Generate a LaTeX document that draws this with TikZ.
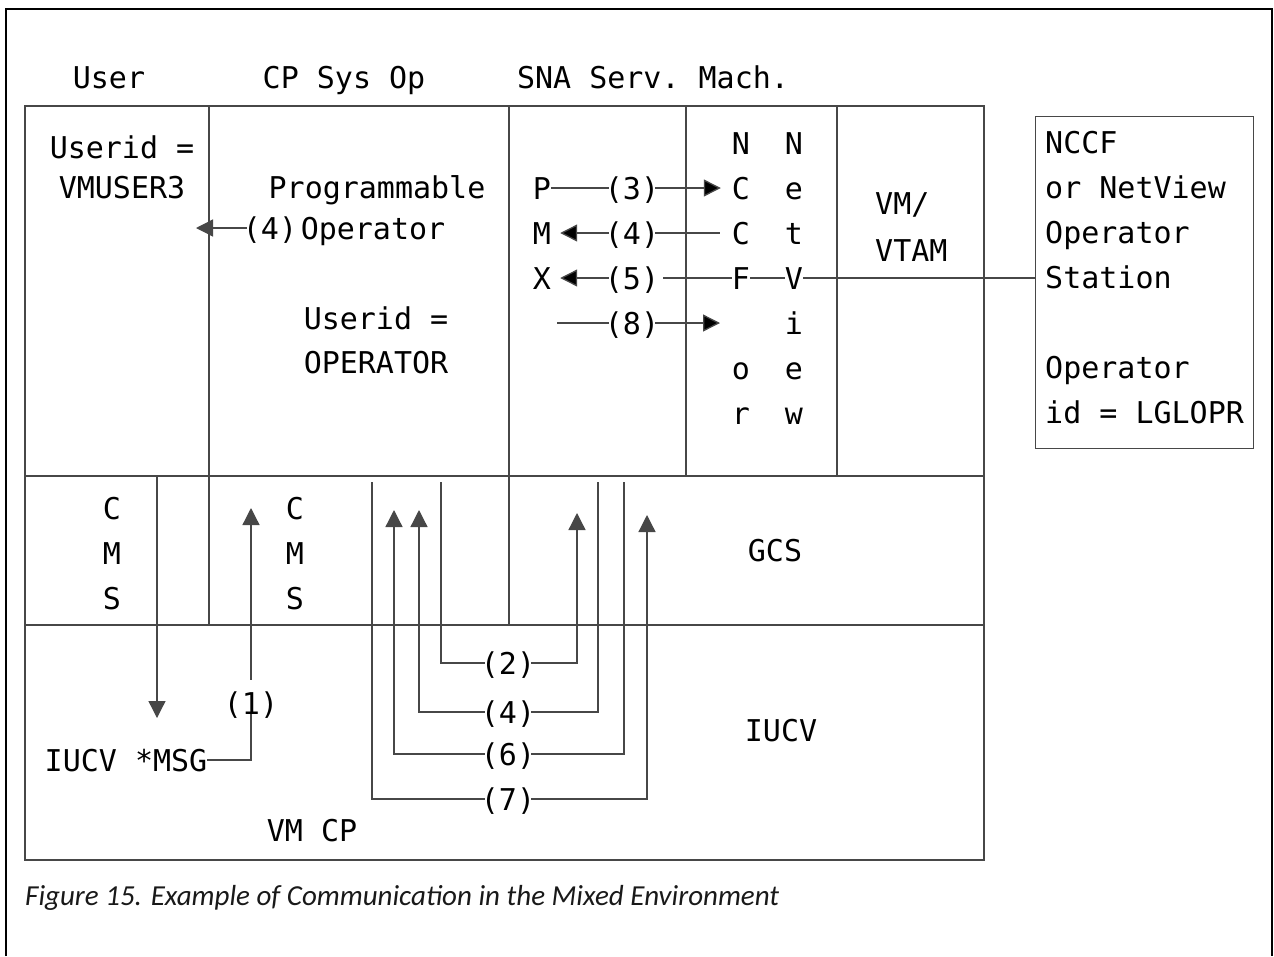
\documentclass[tikz,border=0pt]{standalone}
\usepackage{fontspec}
\newfontfamily\diafont{DejaVu Sans Mono}
\newfontfamily\capfont{Carlito}
\usetikzlibrary{arrows.meta}

\tikzset{
  ln/.style={draw=black!72, line width=1.3pt},
  tri/.style={-{Triangle[length=17pt,width=17pt]}},
  txt/.style={inner sep=0pt, text height=22pt, text depth=0pt,
    font=\diafont\fontsize{30}{45}\selectfont},
  lbl/.style={txt, inner xsep=-4pt},
  boxtxt/.style={inner sep=0pt, align=left,
    font=\diafont\fontsize{30}{45}\selectfont},
}

\begin{document}
\begin{tikzpicture}[x=1pt, y=-1pt, node distance=45pt]
	\useasboundingbox (0,0) rectangle (1274,956);
	\draw[line width=2.2pt] (6,956) -- (6,9) -- (1272,9) -- (1272,956);

	% headings
	\node (hu) [txt] at (109,77) {User};
	\node (hc) [txt] at (344,77) {CP Sys Op};
	\node (hs) [txt] at (653,77) {SNA Serv.\hspace{-5pt} Mach.};

	% frame of the machines
	\draw[ln] (25,106) rectangle (984,860);
	\draw[ln] (25,476) -- (984,476);
	\draw[ln] (25,625) -- (984,625);
	\draw[ln] (209,106) -- (209,625);
	\draw[ln] (509,106) -- (509,625);
	\draw[ln] (686,106) -- (686,476);
	\draw[ln] (837,106) -- (837,476);

	% user and operator
	\node (uid) [txt] at (122,147) {Userid =};
	\node (uname) [txt] at (122,187) {VMUSER3};
	\node (prog) [txt] at (377,187) {Programmable};
	\node (op4) [lbl] at (270,228) {(4)};
	\node (oper) [txt] at (373,228) {Operator};
	\node (oid) [txt] at (376,318) {Userid =};
	\node (oname) [txt] at (376,362) {OPERATOR};
	\coordinate (ua) at (196,228);
	\draw[ln,tri] (op4) -- (ua);

	% station box
	\node (stn) [ln, draw, anchor=north west, minimum width=218pt,
		minimum height=332pt, inner sep=0pt] at (1035,116) {};
	\node (stxt) [boxtxt, anchor=north west] at (1045,131)
		{NCCF\\or NetView\\Operator\\Station\\[45pt]Operator\\id = LGLOPR};

	% PMX
	\node (P) [txt] at (542,188) {P};
	\node (M) [txt] at (542,233) {M};
	\node (X) [txt] at (542,278) {X};
	\node (l3) [lbl] at (632,188) {(3)};
	\node (l4t) [lbl] at (632,233) {(4)};
	\node (l5) [lbl] at (632,278) {(5)};
	\node (l8) [lbl] at (632,323) {(8)};

	% NCCF or NetView
	\node (nc1) [txt] at (741,143) {N};
	\node (nc2) [txt, below of=nc1] {C};
	\node (nc3) [txt, below of=nc2] {C};
	\node (nc4) [txt, below of=nc3] {F};
	\node (nc5) [txt, below of=nc4, node distance=90pt] {o};
	\node (nc6) [txt, below of=nc5] {r};
	\node (nv1) [txt] at (794,143) {N};
	\node (nv2) [txt, below of=nv1] {e};
	\node (nv3) [txt, below of=nv2] {t};
	\node (nv4) [txt, below of=nv3] {V};
	\node (nv5) [txt, below of=nv4] {i};
	\node (nv6) [txt, below of=nv5] {e};
	\node (nv7) [txt, below of=nv6] {w};

	\node (vm1) [txt, anchor=west] at (875,203) {VM/};
	\node (vm2) [txt, anchor=west] at (875,250) {VTAM};

	\coordinate (s8) at (557,323);
	\coordinate (t8) at (720,323);

	\path[ln] (P) edge (l3);
	\path[ln,tri] (l3) edge[shorten >=11pt] (nc2);
	\path[ln] (nc3) edge[shorten <=12pt] (l4t);
	\path[ln,tri] (l4t) edge[shorten >=9pt] (M);
	\path[ln] (stn.west |- nv4) edge (nv4);
	\path[ln] (nv4) edge (nc4);
	\path[ln] (nc4) edge[shorten >=8pt] (l5);
	\path[ln,tri] (l5) edge[shorten >=9pt] (X);
	\path[ln] (s8) edge (l8);
	\path[ln,tri] (l8) edge (t8);

	% GCS and CP
	\node (cm1) [txt] at (112,508) {C};
	\node (cm2) [txt, below of=cm1] {M};
	\node (cm3) [txt, below of=cm2] {S};
	\node (co1) [txt] at (295,508) {C};
	\node (co2) [txt, below of=co1] {M};
	\node (co3) [txt, below of=co2] {S};
	\node (gcs) [txt] at (775,550) {GCS};
	\node (iucv) [txt] at (781,730) {IUCV};
	\node (vmcp) [txt] at (312,830) {VM CP};
	\node (msg) [txt] at (126,760) {IUCV *MSG};
	\node (l1) [lbl] at (251,703) {(1)};

	\coordinate (cmsout) at (157,476);
	\coordinate (msgin) at (157,718);
	\coordinate (opin) at (251,508);
	\draw[ln,tri] (cmsout) -- (msgin);
	\draw[ln] (msg.east) -| (l1.south);
	\draw[ln,tri,shorten <=12pt] (l1.north) -- (opin);

	\node (c2) [lbl] at (508,663) {(2)};
	\node (c4) [lbl] at (508,712) {(4)};
	\node (c6) [lbl] at (508,754) {(6)};
	\node (c7) [lbl] at (508,799) {(7)};
	\coordinate (s2) at (441,482);
	\coordinate (t2) at (577,513);
	\coordinate (s4) at (598,482);
	\coordinate (t4) at (419,510);
	\coordinate (s6) at (624,482);
	\coordinate (t6) at (394,510);
	\coordinate (s7) at (372,482);
	\coordinate (t7) at (647,515);

	\draw[ln] (s2) |- (c2);
	\draw[ln,tri] (c2) -| (t2);
	\draw[ln] (s4) |- (c4);
	\draw[ln,tri] (c4) -| (t4);
	\draw[ln] (s6) |- (c6);
	\draw[ln,tri] (c6) -| (t6);
	\draw[ln] (s7) |- (c7);
	\draw[ln,tri] (c7) -| (t7);

	% caption
	\node (cap) [anchor=west, inner sep=0pt, text=black!90,
		font=\capfont\itshape\fontsize{29}{35}\selectfont] at (25,898)
		{Figure 15. Example of Communication in the Mixed Environment};
\end{tikzpicture}
\end{document}
